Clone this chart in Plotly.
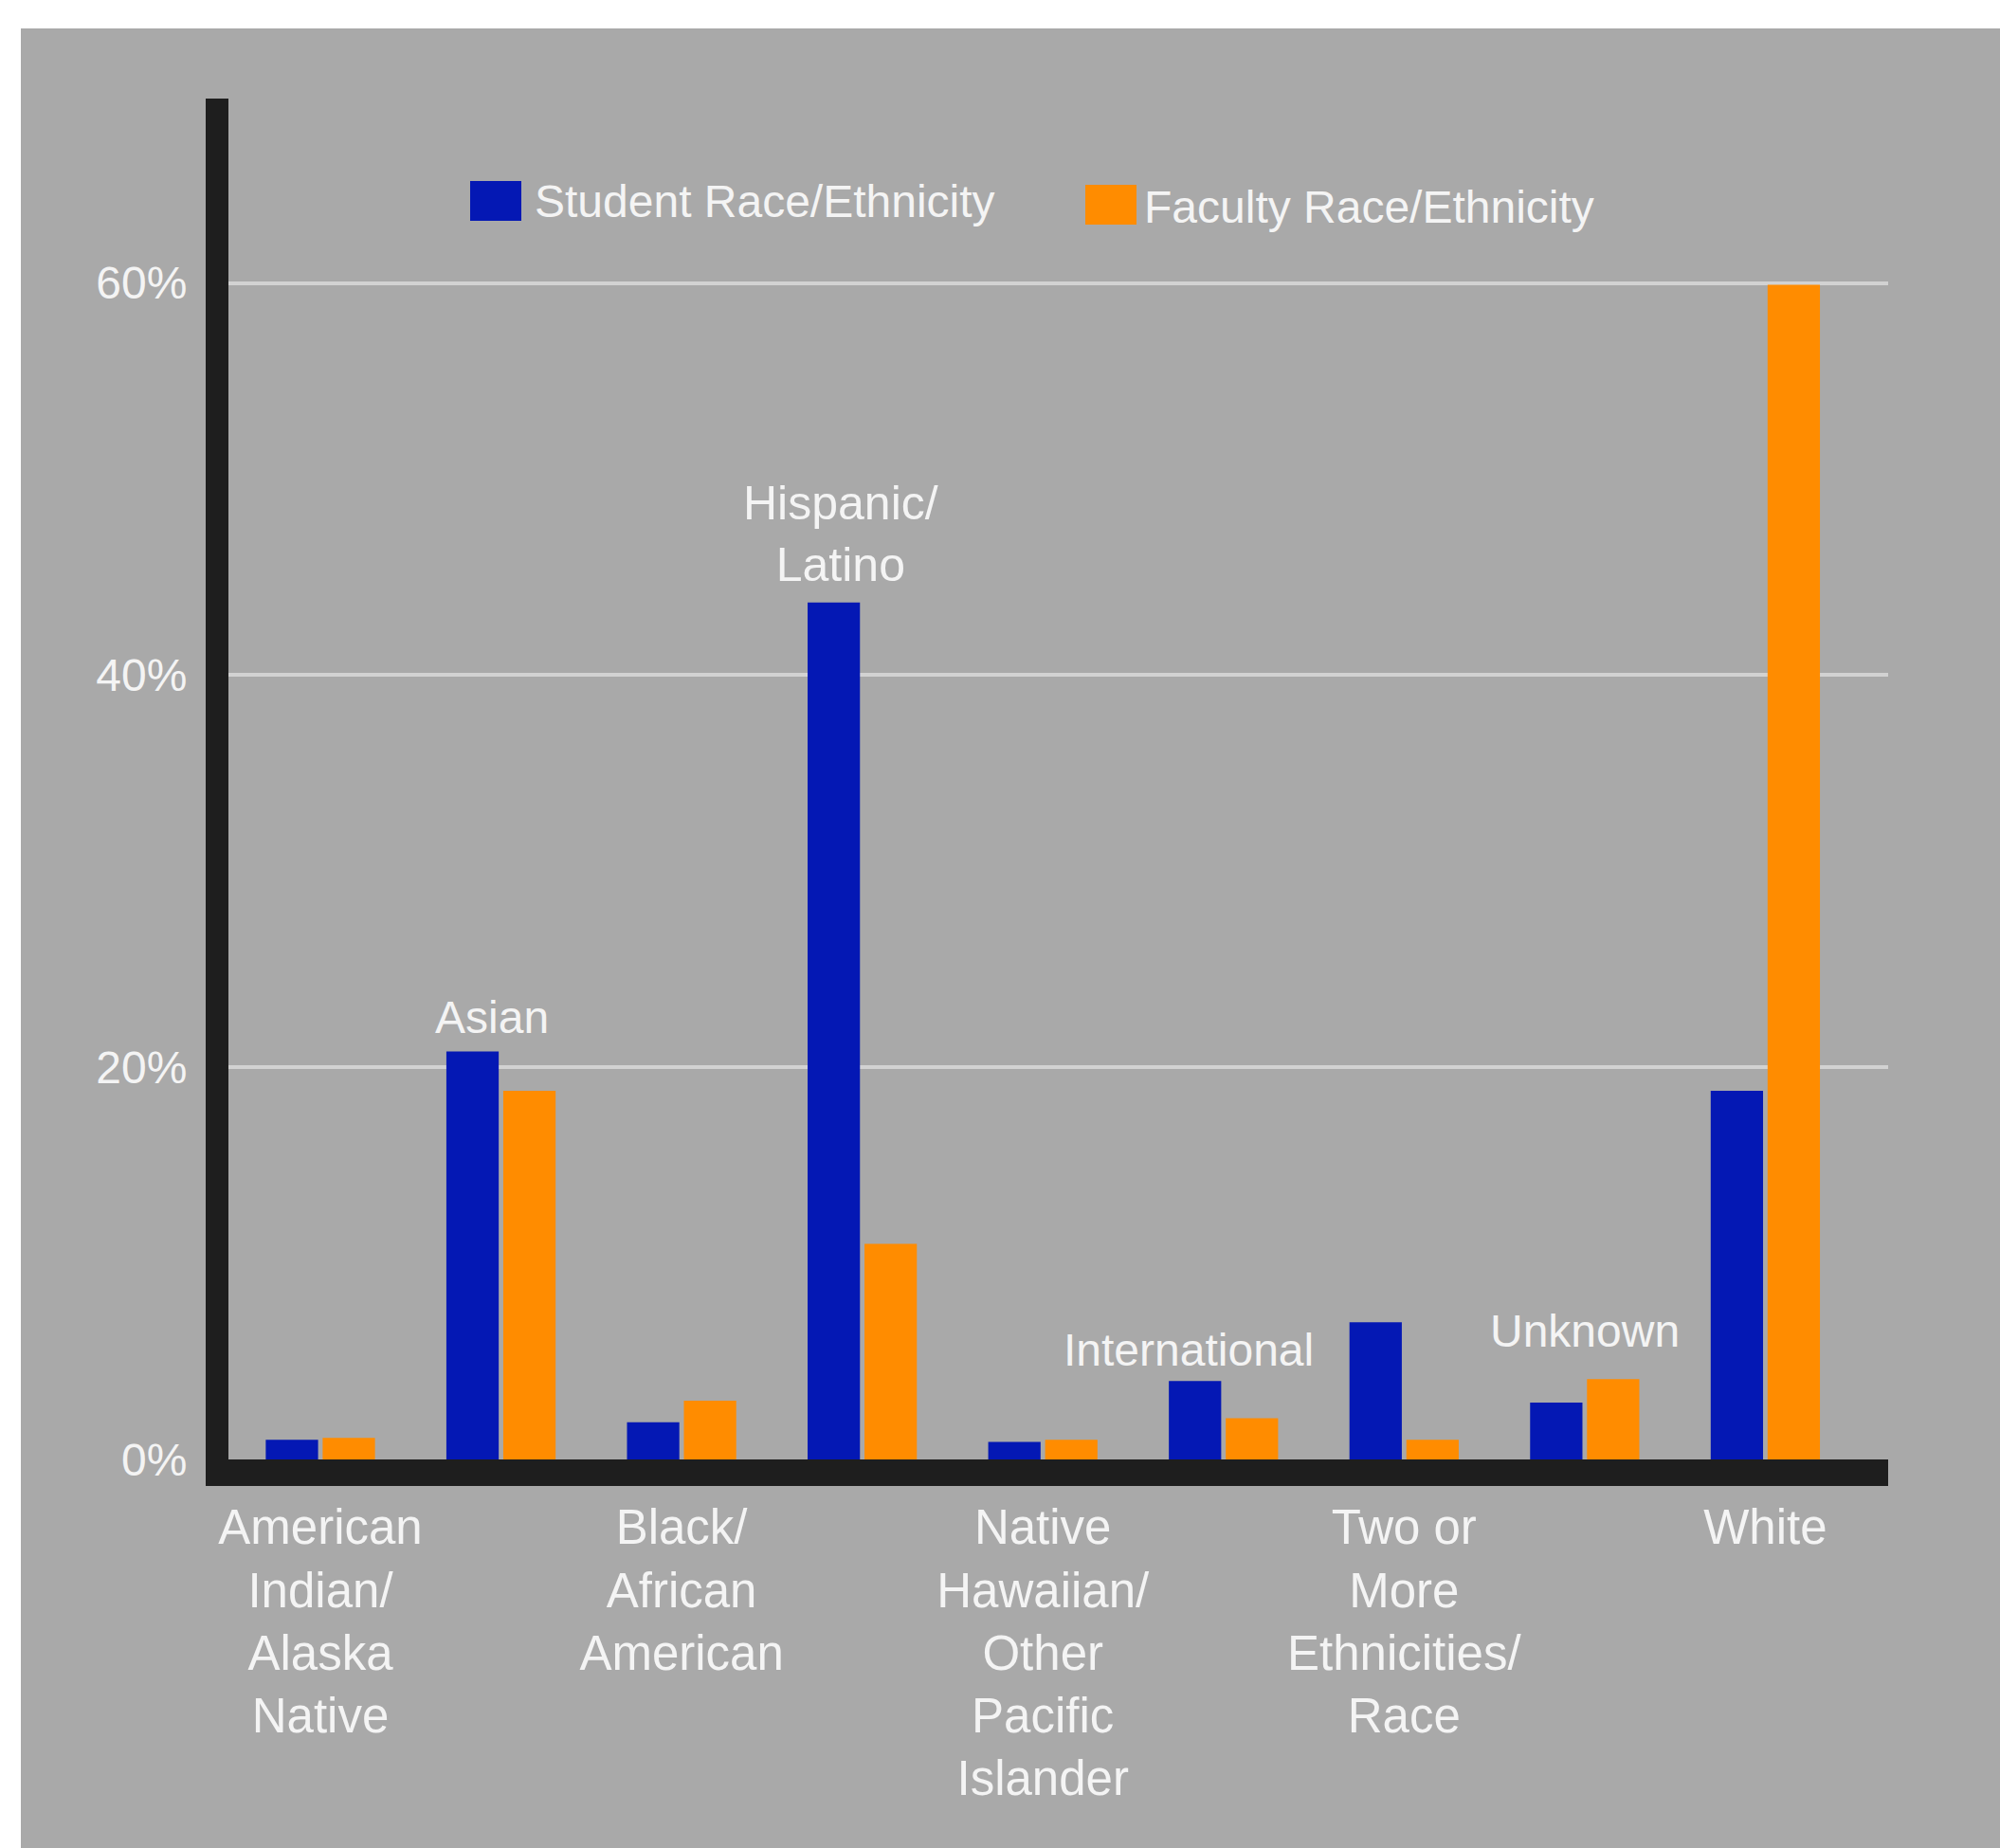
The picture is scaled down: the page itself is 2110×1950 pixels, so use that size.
import plotly.graph_objects as go

categories = [
    "American Indian/ Alaska Native", "Asian", "Black/ African American",
    "Hispanic/ Latino", "Native Hawaiian/ Other Pacific Islander",
    "International", "Two or More Ethnicities/ Race", "Unknown", "White",
]
tick_labels = {
    "American Indian/ Alaska Native": "American<br>Indian/<br>Alaska<br>Native",
    "Black/ African American": "Black/<br>African<br>American",
    "Native Hawaiian/ Other Pacific Islander": "Native<br>Hawaiian/<br>Other<br>Pacific<br>Islander",
    "Two or More Ethnicities/ Race": "Two or<br>More<br>Ethnicities/<br>Race",
    "White": "White",
}
bar_labels = {
    "Asian": "Asian",
    "Hispanic/ Latino": "Hispanic/<br>Latino",
    "International": "International",
    "Unknown": "Unknown",
}
student_pct = [1.0, 20.8, 1.9, 43.7, 0.9, 4.0, 7.0, 2.9, 18.8]
faculty_pct = [1.1, 18.8, 3.0, 11.0, 1.0, 2.1, 1.0, 4.1, 59.9]
series_names = ["Student Race/Ethnicity", "Faculty Race/Ethnicity"]
y_ticks = [0, 20, 40, 60]
y_tick_text = ["0%", "20%", "40%", "60%"]

BLUE = "#0418B4"
ORANGE = "#FF8C00"
GRAY = "#A9A9A9"
TXT = "#F4F4F4"
FONT = "Liberation Sans, Arial, sans-serif"
FS = 48

fig = go.Figure()
fig.add_trace(go.Bar(x=categories, y=student_pct, name=series_names[0],
                     marker=dict(color=BLUE, line=dict(width=0)), showlegend=False))
fig.add_trace(go.Bar(x=categories, y=faculty_pct, name=series_names[1],
                     marker=dict(color=ORANGE, line=dict(width=0)), showlegend=False))

# labels above some groups
xshift = {"Asian": -10, "Hispanic/ Latino": -23, "International": -37, "Unknown": 0}
yshift = {"Asian": 8, "Hispanic/ Latino": 10, "International": 4, "Unknown": 22}
for cat, txt in bar_labels.items():
    i = categories.index(cat)
    fig.add_annotation(x=cat, y=max(student_pct[i], faculty_pct[i]), text=txt,
                       showarrow=False, yanchor="bottom", xshift=xshift[cat], yshift=yshift[cat],
                       font=dict(family=FONT, size=50 if "<br>" in txt else FS, color=TXT))

# background panel (gray, with white strip top/left)
W, H = 2110, 1950
L, R, T, B = 241, 118, 104, 410
pw, ph = W - L - R, H - T - B
def px(x):
    return (x - L) / pw
def py(y):
    return (H - B - y) / ph

fig.add_shape(type="rect", xref="paper", yref="paper", x0=px(22), x1=px(W + 5),
              y0=py(H + 5), y1=py(30), fillcolor=GRAY, line=dict(width=0), layer="below")

# manual legend
legend_items = [(series_names[0], BLUE, 496, 550, 191, 233, 562, 213),
                (series_names[1], ORANGE, 1145, 1199, 195, 237, 1205, 218)]
for name, col, x0, x1, y0, y1, tx, ty in legend_items:
    fig.add_shape(type="rect", xref="paper", yref="paper", x0=px(x0), x1=px(x1),
                  y0=py(y1), y1=py(y0), fillcolor=col, line=dict(width=0))
    fig.add_annotation(xref="paper", yref="paper", x=px(tx), y=py(ty), text=name,
                       showarrow=False, xanchor="left", yanchor="middle",
                       font=dict(family=FONT, size=FS, color=TXT))

fig.update_layout(
    width=W, height=H,
    margin=dict(l=L, r=R, t=T, b=B, pad=0),
    paper_bgcolor="white", plot_bgcolor="rgba(0,0,0,0)",
    barmode="group", bargap=0.37, bargroupgap=0.08,
    font=dict(family=FONT, size=FS, color=TXT),
    showlegend=False,
)
fig.update_xaxes(
    range=[-0.509, 8.68], showgrid=False, zeroline=False,
    tickmode="array", tickvals=list(tick_labels.keys()), ticktext=list(tick_labels.values()),
    tickfont=dict(family=FONT, size=51, color=TXT),
    showline=True, linecolor="#1E1E1E", linewidth=28, ticks="",
    categoryorder="array", categoryarray=categories,
)
fig.update_yaxes(
    range=[0, 69.4], tickvals=y_ticks, ticktext=y_tick_text,
    showgrid=True, gridcolor="#D2D2D2", gridwidth=4, zeroline=False,
    tickfont=dict(family=FONT, size=FS, color=TXT), ticklabelstandoff=10,
    showline=True, linecolor="#1E1E1E", linewidth=24, ticks="",
)

fig.write_html("out.html")
